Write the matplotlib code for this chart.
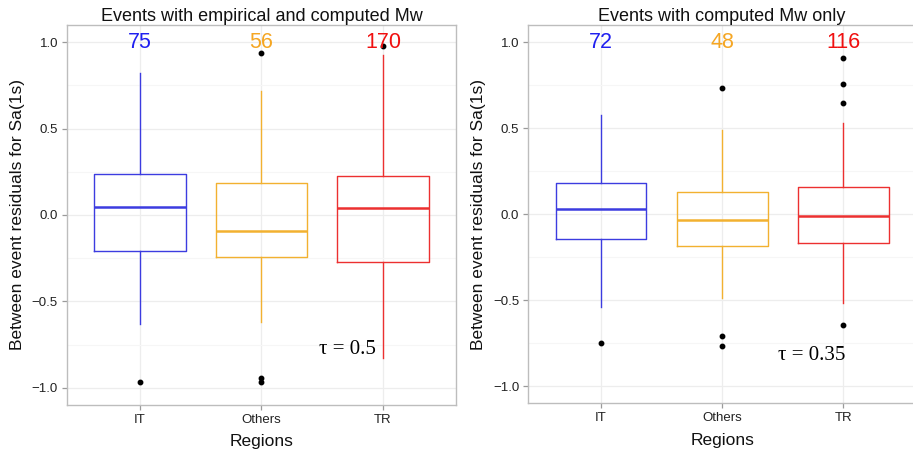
import matplotlib
matplotlib.use("Agg")
import matplotlib.pyplot as plt
from matplotlib.ticker import MultipleLocator

plt.rcParams['font.family'] = ['Liberation Sans', 'DejaVu Sans']

regions = ['IT', 'Others', 'TR']
colors = ['#3c3ce0', '#f2b130', '#ec3030']
label_colors = ['#2020f0', '#f5a623', '#f01010']

# left panel: events with empirical and computed Mw
counts_left = [75, 56, 170]
q1_left = [-0.206, -0.245, -0.273]
med_left = [0.046, -0.092, 0.040]
q3_left = [0.235, 0.187, 0.227]
lo_left = [-0.630, -0.617, -0.829]
hi_left = [0.823, 0.718, 0.925]
out_left = [[-0.965], [0.935, -0.944, -0.969], [0.979]]

# right panel: events with computed Mw only
counts_right = [72, 48, 116]
q1_right = [-0.145, -0.184, -0.165]
med_right = [0.031, -0.033, -0.010]
q3_right = [0.180, 0.131, 0.155]
lo_right = [-0.541, -0.485, -0.514]
hi_right = [0.577, 0.490, 0.529]
out_right = [[-0.750], [0.733, -0.710, -0.766], [0.910, 0.756, 0.649, -0.644]]

titles = ['Events with empirical and computed Mw', 'Events with computed Mw only']
taus = ['τ = 0.5', 'τ = 0.35']


def panel(ax, counts, q1, med, q3, lo, hi, out, title, tau, tau_xy):
    ax.set_xlim(0.4, 3.6)
    ax.set_ylim(-1.1, 1.1)
    ax.yaxis.set_major_locator(MultipleLocator(0.5))
    ax.yaxis.set_minor_locator(MultipleLocator(0.25))
    ax.set_xticks([1, 2, 3])
    ax.set_xticklabels(regions)
    ax.grid(True, which='major', color='#ededed', lw=0.9)
    ax.grid(True, which='minor', axis='y', color='#f6f6f6', lw=0.8)
    ax.set_axisbelow(True)
    for i in range(3):
        st = [dict(med=med[i], q1=q1[i], q3=q3[i], whislo=lo[i],
                   whishi=hi[i], fliers=out[i])]
        c = colors[i]
        ax.bxp(st, positions=[i + 1], widths=0.75, showcaps=False,
               boxprops=dict(color=c, lw=1.0),
               whiskerprops=dict(color=c, lw=1.0),
               medianprops=dict(color=c, lw=1.8),
               flierprops=dict(marker='o', markerfacecolor='black',
                               markeredgecolor='black', markersize=3.2),
               manage_ticks=False)
        ax.text(i + 1, 1.0, str(counts[i]), color=label_colors[i],
                fontsize=15.5, ha='center', va='center')
    ax.text(tau_xy[0], tau_xy[1], tau, fontsize=15, ha='right', va='center',
            family=['Liberation Serif', 'DejaVu Serif'])
    for s in ax.spines.values():
        s.set_color('#bdbdbd')
        s.set_linewidth(1.0)
    ax.tick_params(axis='both', colors='#9a9a9a', length=3.5, width=0.9,
                   labelcolor='#222222', labelsize=9.5, pad=3)
    ax.tick_params(which='minor', length=0)
    ax.set_title(title, fontsize=13, pad=3, color='#111111')
    ax.set_xlabel('Regions', fontsize=12.5, labelpad=6, color='#111111')
    ax.set_ylabel('Between event residuals for Sa(1s)', fontsize=12.5,
                  labelpad=5, color='#111111')


fig = plt.figure(figsize=(9.13, 4.57), dpi=100)
ax1 = fig.add_axes([0.0734, 0.1138, 0.426, 0.8315])
ax2 = fig.add_axes([0.5786, 0.1175, 0.4246, 0.8278])

panel(ax1, counts_left, q1_left, med_left, q3_left, lo_left, hi_left,
      out_left, titles[0], taus[0], (2.94, -0.78))
panel(ax2, counts_right, q1_right, med_right, q3_right, lo_right, hi_right,
      out_right, titles[1], taus[1], (3.02, -0.82))
# right panel is cut at the image edge, no right border visible
ax2.spines['right'].set_visible(False)

fig.savefig('out.png', dpi=100)
